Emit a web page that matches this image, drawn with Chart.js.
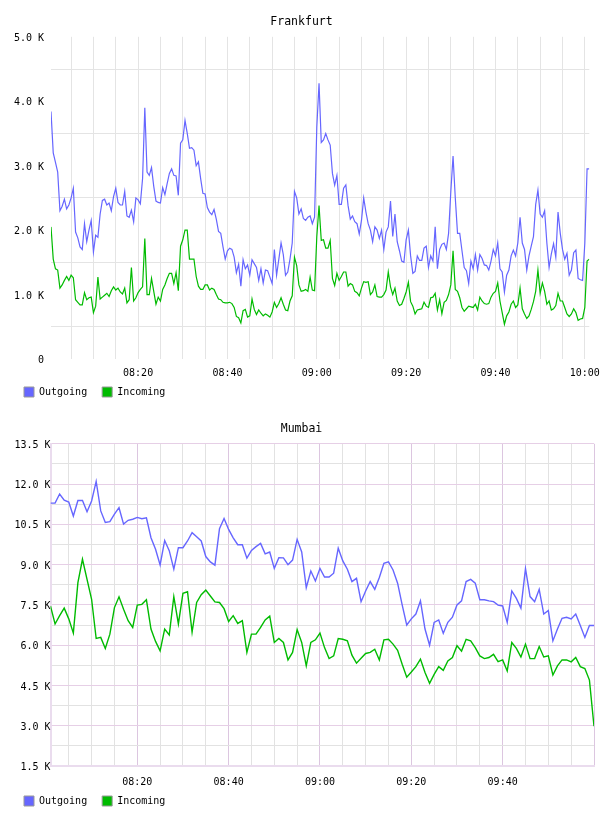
<!DOCTYPE html>
<html>
<head>
<meta charset="utf-8">
<script src="https://cdn.jsdelivr.net/npm/chart.js@4/dist/chart.umd.min.js"></script>
<style>
  html, body { margin: 0; padding: 0; background: #fff; overflow: hidden; }
  canvas { display: block; }
</style>
</head>
<body>
<canvas id="frankfurt" width="608" height="407"></canvas>
<canvas id="mumbai" width="608" height="409"></canvas>
<script>
// minutes after 08:00 of the first sample, and sample spacing in minutes
const frankfurtStart = 0.5;
const frankfurtStep = 0.5;
const mumbaiStart = 1;
const mumbaiStep = 1;

const frankfurtTimeLabels = ['08:20', '08:40', '09:00', '09:20', '09:40', '10:00'];
const mumbaiTimeLabels = ['08:20', '08:40', '09:00', '09:20', '09:40'];

// values in K
const frankfurtOutgoing = [
  3.84, 3.2, 3.05, 2.9, 2.3, 2.37, 2.48, 2.33, 2.39, 2.5, 2.65, 1.97, 1.88, 1.74, 1.7, 2.1, 1.82, 2.0, 2.15, 1.66,
  1.92, 1.89, 2.25, 2.46, 2.48, 2.39, 2.42, 2.3, 2.52, 2.65, 2.43, 2.39, 2.39, 2.6, 2.22, 2.2, 2.31, 2.13, 2.5, 2.47,
  2.41, 2.8, 3.9, 2.9, 2.85, 2.97, 2.68, 2.45, 2.43, 2.42, 2.66, 2.55, 2.72, 2.88, 2.95, 2.85, 2.84, 2.54, 3.35, 3.4,
  3.7,
  3.5, 3.27, 3.28, 3.24, 3.0, 3.06, 2.8, 2.57, 2.56, 2.35, 2.28, 2.24, 2.32, 2.17, 1.98, 1.95, 1.74, 1.55, 1.68, 1.72,
  1.7, 1.58, 1.34, 1.47, 1.13, 1.54, 1.4, 1.46, 1.3, 1.54, 1.48, 1.42, 1.22, 1.4, 1.18, 1.38, 1.37, 1.27, 1.17, 1.7,
  1.3, 1.55, 1.8, 1.62, 1.3, 1.35, 1.55, 1.8, 2.6, 2.5, 2.25, 2.33, 2.18, 2.15, 2.2, 2.22, 2.1, 2.2, 3.6, 4.28,
  3.36, 3.4, 3.5, 3.4, 3.32, 2.88, 2.7, 2.85, 2.4, 2.4, 2.65, 2.7, 2.38, 2.17, 2.22, 2.13, 2.1, 1.94, 2.15, 2.5,
  2.28, 2.1, 2.0, 1.82, 2.05, 2.0, 1.87, 2.0, 1.7, 1.97, 2.05, 2.45, 1.9, 2.25, 1.82, 1.68, 1.52, 1.5, 1.85, 2.0,
  1.6, 1.33, 1.36, 1.6, 1.53, 1.53, 1.72, 1.75, 1.42, 1.6, 1.52, 2.05, 1.4, 1.7, 1.78, 1.8, 1.7, 1.95, 2.6, 3.15,
  2.5, 1.95, 1.95, 1.68, 1.42, 1.37, 1.17, 1.52, 1.4, 1.62, 1.38, 1.62, 1.56, 1.46, 1.45, 1.38, 1.52, 1.7, 1.6, 1.8,
  1.4, 1.35, 1.04, 1.3, 1.38, 1.6, 1.69, 1.6, 1.8, 2.2, 1.8, 1.7, 1.38, 1.6, 1.75, 1.9, 2.4, 2.62, 2.25, 2.2,
  2.3, 1.8, 1.42, 1.63, 1.79, 1.58, 2.28, 1.95, 1.7, 1.55, 1.64, 1.3, 1.38, 1.65, 1.69, 1.25, 1.23, 1.22, 1.8, 2.95,
  2.95
];
const frankfurtIncoming = [
  2.05, 1.55, 1.4, 1.38, 1.1, 1.15, 1.22, 1.28, 1.22, 1.3, 1.26, 0.92, 0.88, 0.84, 0.84, 1.03, 0.92, 0.95, 0.96, 0.72,
  0.82, 1.27, 0.93, 0.96, 0.99, 1.02, 0.97, 1.06, 1.12, 1.07, 1.1, 1.04, 1.01, 1.1, 0.87, 0.92, 1.42, 0.9, 0.95, 1.03,
  1.08, 1.12, 1.87, 1.0, 1.0, 1.25, 1.05, 0.85, 0.96, 0.9, 1.08, 1.15, 1.25, 1.33, 1.33, 1.17, 1.34, 1.06, 1.75, 1.85,
  2.0,
  2.0, 1.55, 1.55, 1.55, 1.28, 1.13, 1.08, 1.08, 1.15, 1.15, 1.07, 1.1, 1.08, 1.0, 0.93, 0.92, 0.88, 0.87, 0.87, 0.88,
  0.86, 0.8, 0.66, 0.64, 0.56, 0.75, 0.77, 0.65, 0.67, 0.93, 0.77, 0.69, 0.76, 0.71, 0.67, 0.7, 0.68, 0.65, 0.73, 0.88,
  0.8, 0.86, 0.95, 0.85, 0.76, 0.75, 0.9, 0.98, 1.58, 1.45, 1.15, 1.05, 1.06, 1.08, 1.05, 1.27, 1.07, 1.06, 1.9, 2.38,
  1.84, 1.85, 1.72, 1.72, 1.84, 1.25, 1.14, 1.33, 1.22, 1.28, 1.35, 1.35, 1.13, 1.17, 1.15, 1.05, 1.03, 0.98, 1.1, 1.2,
  1.19, 1.2, 1.0, 1.04, 1.15, 0.97, 0.96, 0.96, 1.0, 1.07, 1.35, 1.12, 1.0, 1.1, 0.9, 0.83, 0.85, 0.94, 1.04, 1.19,
  0.89, 0.82, 0.7, 0.76, 0.77, 0.78, 0.88, 0.82, 0.8, 0.95, 0.96, 1.02, 0.76, 0.92, 0.7, 0.88, 0.91, 1.0, 1.15, 1.68,
  1.08, 1.05, 0.95, 0.8, 0.74, 0.78, 0.82, 0.81, 0.8, 0.85, 0.76, 0.96, 0.9, 0.86, 0.85, 0.86, 0.96, 1.02, 1.05, 1.18,
  0.9, 0.72, 0.54, 0.67, 0.73, 0.85, 0.9, 0.8, 0.84, 1.1, 0.78, 0.7, 0.63, 0.67, 0.77, 0.89, 1.05, 1.38, 1.02, 1.18,
  1.05, 0.85, 0.9, 0.76, 0.78, 0.83, 1.02, 0.9, 0.9, 0.8, 0.7, 0.66, 0.7, 0.78, 0.72, 0.6, 0.62, 0.63, 0.8, 1.52,
  1.55
];

const mumbaiOutgoing = [
  11.29, 11.29, 11.63, 11.4, 11.33, 10.81, 11.39, 11.39, 10.97, 11.37,
  12.1, 11.0, 10.57, 10.6, 10.88, 11.12, 10.51, 10.65, 10.69, 10.76,
  10.71, 10.74, 10.0, 9.57, 8.99, 9.9, 9.52, 8.83, 9.63, 9.63,
  9.88, 10.19, 10.04, 9.88, 9.3, 9.1, 8.98, 10.34, 10.72, 10.31,
  10.0, 9.74, 9.74, 9.24, 9.53, 9.67, 9.79, 9.4, 9.47, 8.86,
  9.26, 9.25, 9.0, 9.17, 9.94, 9.47, 8.14, 8.76, 8.39, 8.86,
  8.54, 8.54, 8.68, 9.61, 9.14, 8.83, 8.37, 8.49, 7.62, 8.02,
  8.37, 8.08, 8.52, 9.05, 9.1, 8.8, 8.31, 7.5, 6.75, 6.98,
  7.16, 7.65, 6.6, 6.0, 6.85, 6.94, 6.44, 6.85, 7.04, 7.5,
  7.65, 8.37, 8.45, 8.31, 7.69, 7.69, 7.65, 7.62, 7.49, 7.46,
  6.85, 8.02, 7.74, 7.38, 8.85, 7.81, 7.62, 8.08, 7.16, 7.29,
  6.16, 6.6, 7.0, 7.04, 6.98, 7.16, 6.73, 6.29, 6.73, 6.73
];
const mumbaiIncoming = [
  7.45, 6.79, 7.1, 7.38, 6.98, 6.45, 8.33, 9.2, 8.45, 7.71,
  6.25, 6.29, 5.88, 6.41, 7.4, 7.8, 7.34, 6.91, 6.66, 7.49,
  7.52, 7.69, 6.6, 6.14, 5.79, 6.6, 6.38, 7.81, 6.79, 7.93,
  7.99, 6.48, 7.59, 7.88, 8.05, 7.83, 7.61, 7.59, 7.36, 6.88,
  7.1, 6.81, 6.91, 5.73, 6.41, 6.41, 6.66, 6.94, 7.08, 6.1,
  6.25, 6.1, 5.45, 5.73, 6.58, 6.1, 5.23, 6.1, 6.2, 6.45,
  5.91, 5.5, 5.6, 6.25, 6.22, 6.16, 5.63, 5.33, 5.51, 5.69,
  5.73, 5.85, 5.45, 6.2, 6.22, 6.04, 5.81, 5.29, 4.81, 5.0,
  5.2, 5.48, 4.98, 4.58, 4.91, 5.2, 5.06, 5.41, 5.54, 5.98,
  5.78, 6.22, 6.16, 5.91, 5.6, 5.5, 5.54, 5.66, 5.39, 5.45,
  5.04, 6.1, 5.88, 5.56, 6.04, 5.5, 5.5, 5.95, 5.56, 5.6,
  4.89, 5.23, 5.45, 5.45, 5.38, 5.54, 5.2, 5.13, 4.7, 2.98
];

const FONT = 'DejaVu Sans Mono';
const OUT_COLOR = '#6666ff';
const IN_COLOR = '#00bb00';

// pulls the legend up towards the time labels (legend padding also sets the gap between items)
const legendOffset = {
  id: 'legendOffset',
  afterLayout(chart, args, opts) {
    chart.legend.top -= opts.dy;
  }
};

function toMinutes(label) {
  const [h, m] = label.split(':').map(Number);
  return (h - 8) * 60 + m;
}

function points(values, start, step) {
  return values.map((v, i) => ({ x: start + i * step, y: v }));
}

function isMultiple(v, n) {
  return Math.abs(v / n - Math.round(v / n)) < 1e-6;
}

function makeChart(id, cfg) {
  const labelAt = {};
  cfg.timeLabels.forEach(l => { labelAt[toMinutes(l)] = l; });
  const gridMinutes = [];
  for (let m = 5; m <= 120; m += 5) gridMinutes.push(m);

  return new Chart(document.getElementById(id), {
    type: 'line',
    plugins: [legendOffset],
    data: {
      datasets: [
        {
          label: 'Outgoing',
          data: points(cfg.outgoing, cfg.start, cfg.step),
          borderColor: OUT_COLOR,
          backgroundColor: OUT_COLOR,
          borderWidth: cfg.lineWidth,
          pointRadius: 0,
          tension: 0
        },
        {
          label: 'Incoming',
          data: points(cfg.incoming, cfg.start, cfg.step),
          borderColor: IN_COLOR,
          backgroundColor: IN_COLOR,
          borderWidth: cfg.lineWidth,
          pointRadius: 0,
          tension: 0
        }
      ]
    },
    options: {
      responsive: false,
      animation: false,
      events: [],
      layout: { padding: { left: 9, right: 14, top: 0, bottom: 0 } },
      plugins: {
        title: {
          display: true,
          text: cfg.title,
          color: '#000',
          font: { family: FONT, size: 11.5, weight: 'normal' },
          padding: { top: 15, bottom: 8 }
        },
        legend: {
          position: 'bottom',
          align: 'start',
          maxHeight: cfg.legendHeight,
          labels: {
            boxWidth: 10,
            boxHeight: 10,
            padding: 15,
            color: '#000',
            font: { family: FONT, size: 10 },
            generateLabels(chart) {
              return Chart.defaults.plugins.legend.labels.generateLabels(chart).map(item => {
                item.strokeStyle = '#999';
                item.lineWidth = 1;
                return item;
              });
            }
          }
        },
        legendOffset: { dy: cfg.legendDy },
        tooltip: { enabled: false }
      },
      scales: {
        x: {
          type: 'linear',
          min: cfg.xMin,
          max: cfg.xMax,
          afterBuildTicks(axis) {
            axis.ticks = gridMinutes.map(v => ({ value: v }));
          },
          ticks: {
            autoSkip: false,
            maxRotation: 0,
            padding: cfg.xTickPadding,
            color: '#000',
            font: { family: FONT, size: 10 },
            callback: v => labelAt[v] || ''
          },
          grid: {
            drawTicks: false,
            color: ctx => cfg.xGridColor(ctx.tick ? ctx.tick.value : 0)
          },
          border: cfg.xBorder
        },
        y: {
          min: cfg.yMin,
          max: cfg.yMax,
          afterFit(scale) {
            scale.width = cfg.yAxisWidth;
          },
          ticks: {
            stepSize: cfg.yStep,
            padding: cfg.yTickPadding,
            labelOffset: 1.5,
            color: '#000',
            font: { family: FONT, size: 10 },
            callback: cfg.yLabel
          },
          grid: {
            drawTicks: false,
            color: ctx => cfg.yGridColor(ctx.tick ? ctx.tick.value : 0)
          },
          border: cfg.yBorder
        }
      }
    }
  });
}

makeChart('frankfurt', {
  title: 'Frankfurt',
  outgoing: frankfurtOutgoing,
  incoming: frankfurtIncoming,
  start: frankfurtStart,
  step: frankfurtStep,
  timeLabels: frankfurtTimeLabels,
  xMin: 0.5,
  xMax: 121,
  xTickPadding: 8,
  legendHeight: 20,
  legendDy: 15,
  xGridColor: () => '#e4e4e4',
  xBorder: { display: false },
  yMin: 0,
  yMax: 5,
  yStep: 0.5,
  yAxisWidth: 42,
  yTickPadding: 7,
  yLabel: v => isMultiple(v, 1) ? (v === 0 ? '0' : v.toFixed(1) + ' K') : '',
  yGridColor: v => isMultiple(v, 1) ? 'rgba(0,0,0,0)' : '#e4e4e4',
  yBorder: { display: false },
  lineWidth: 1.2
});

makeChart('mumbai', {
  title: 'Mumbai',
  outgoing: mumbaiOutgoing,
  incoming: mumbaiIncoming,
  start: mumbaiStart,
  step: mumbaiStep,
  timeLabels: mumbaiTimeLabels,
  xMin: 1,
  xMax: 120,
  xTickPadding: 10,
  legendHeight: 18,
  legendDy: 17,
  xGridColor: v => isMultiple(v, 20) ? '#dcc6e0' : '#e2e2e2',
  xBorder: { display: true, color: '#eadcee', width: 2 },
  yMin: 1.5,
  yMax: 13.5,
  yStep: 0.75,
  yAxisWidth: 41.5,
  yTickPadding: 0,
  yLabel: v => isMultiple(v, 1.5) ? v.toFixed(1) + ' K' : '',
  yGridColor: v => isMultiple(v, 1.5) ? '#e6cfe6' : '#e2e2e2',
  yBorder: { display: true, color: '#eadcee', width: 2 },
  lineWidth: 1.4
});
</script>
</body>
</html>
